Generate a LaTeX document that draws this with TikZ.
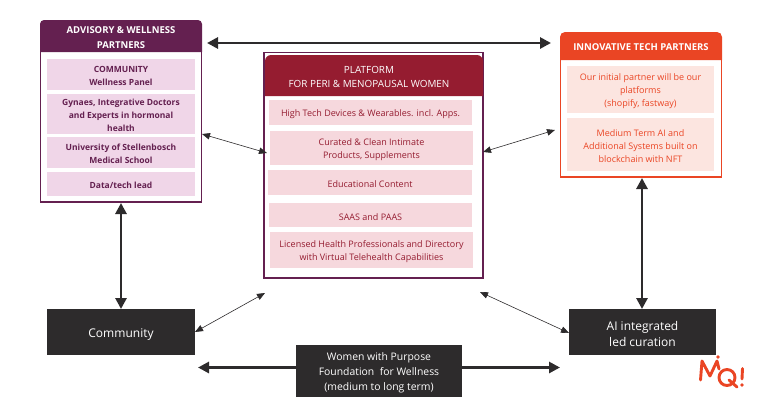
\documentclass[tikz,border=0pt]{standalone}
\usepackage{fontspec}
\setmainfont{Open Sans}
\usetikzlibrary{arrows.meta,positioning,calc}
\definecolor{plum}{HTML}{642050}
\definecolor{plumfill}{HTML}{F0D6E8}
\definecolor{wine}{HTML}{951C30}
\definecolor{winefill}{HTML}{F6D8DD}
\definecolor{orangeh}{HTML}{EA4524}
\definecolor{orangefill}{HTML}{FCE5E0}
\definecolor{coal}{HTML}{2D2B2C}
\tikzset{
  x=1pt,y=-1pt,
  plumitem/.style={fill=plumfill,text=plum,font=\fontsize{8.5}{12.9}\selectfont\bfseries,inner sep=0pt,align=center,anchor=center},
  wineitem/.style={fill=winefill,text=wine,font=\fontsize{9}{13}\selectfont,inner sep=0pt,align=center,anchor=center},
  orangeitem/.style={fill=orangefill,text=orangeh,font=\fontsize{9}{12.8}\selectfont,inner sep=0pt,align=center,anchor=center},
  darkbox/.style={fill=coal,text=white,inner sep=0pt,align=center,anchor=center},
  thick arrow/.style={draw=coal,line width=2.8pt,{Triangle[length=11pt,width=11pt]}-{Triangle[length=11pt,width=11pt]}},
  thin arrow/.style={draw=coal,line width=0.6pt,{Triangle[length=8pt,width=6.5pt]}-{Triangle[length=8pt,width=6.5pt]}},
}
\newcommand{\itemnode}[7]{\node[#2,minimum width=#5-#3,minimum height=#6-#4] (#1) at ({(#3+#5)/2},{(#4+#6)/2}) {\rule{0pt}{1.12em}#7};}
\begin{document}
\begin{tikzpicture}
\useasboundingbox (0,0) rectangle (758,410);
% Advisory
\draw[plum,line width=1.2pt,fill=white] (40.5,30) rectangle (201.5,202);
\fill[plum] (40,52) [rounded corners=4pt] -- (40,20) -- (202,20) [sharp corners] -- (202,52) -- cycle;
\node[text=white,font=\fontsize{9.5}{14.2}\selectfont\bfseries,align=center] (advh) at (121,37.5) {ADVISORY \& WELLNESS\\PARTNERS};
\itemnode{a1}{plumitem}{47}{59}{195}{90}{COMMUNITY\\Wellness Panel}
\itemnode{a2}{plumitem}{47}{94}{195}{134}{Gynaes, Integrative Doctors\\and Experts in hormonal\\health}
\itemnode{a3}{plumitem}{47}{137}{195}{168}{University of Stellenbosch\\Medical School}
\itemnode{a4}{plumitem}{47}{172}{195}{196}{Data/tech lead}
\coordinate (advE) at (202,134);
\coordinate (advS) at (121,203);
\coordinate (advTop) at (207,43);
% Platform
\draw[plum,line width=1.2pt,fill=white] (264,52.5) rectangle (483,278);
\fill[wine] (265,96) [rounded corners=6pt] -- (265,55) -- (483,55) [sharp corners] -- (483,96) -- cycle;
\node[text=white,font=\fontsize{9.9}{13.6}\selectfont,align=center] (plth) at (369,77) {PLATFORM\\FOR PERI \& MENOPAUSAL WOMEN};
\itemnode{p1}{wineitem}{269}{100}{472}{125}{High Tech Devices \& Wearables. incl. Apps.}
\itemnode{p2}{wineitem}{270}{131}{473}{165}{Curated \& Clean Intimate\\Products, Supplements}
\itemnode{p3}{wineitem}{268}{170}{472}{195}{Educational Content}
\itemnode{p4}{wineitem}{269}{203}{472}{227}{SAAS and PAAS}
\itemnode{p5}{wineitem}{270}{232}{473}{268}{Licensed Health Professionals and Directory\\with Virtual Telehealth Capabilities}
\coordinate (pltW) at (267,153);
\coordinate (pltE) at (483,152);
\coordinate (pltSW) at (265,293);
\coordinate (pltSE) at (480,292);
% Innovative
\draw[orangeh,line width=1.1pt,fill=white] (560.5,45) rectangle (721.5,177);
\fill[orangeh] (560,60) [rounded corners=5pt] -- (560,32) -- (722,32) [sharp corners] -- (722,60) -- cycle;
\node[text=white,font=\fontsize{9.5}{13}\selectfont\bfseries] (innh) at (641,47) {INNOVATIVE TECH PARTNERS};
\itemnode{i1}{orangeitem}{567}{66}{714}{113}{Our initial partner will be our\\platforms\\(shopify, fastway)}
\itemnode{i2}{orangeitem}{567}{118}{714}{171}{Medium Term AI and\\Additional Systems built on\\blockchain with NFT}
\coordinate (innW) at (551,43);
\coordinate (innE) at (555,130);
\coordinate (innS) at (642,178);
% Dark boxes
\itemnode{comm}{darkbox,font=\fontsize{12}{14}\selectfont}{47}{309}{195}{355}{Community}
\itemnode{ai}{darkbox,font=\fontsize{12}{16.5}\selectfont}{569}{309}{716}{355}{AI integrated\\led curation}
\itemnode{wwp}{darkbox,font=\fontsize{10.4}{15.2}\selectfont}{296}{345}{462}{397}{Women with Purpose\\Foundation \ for Wellness\\(medium to long term)}
\coordinate (commN) at (121,309);
\coordinate (aiN) at (642,309);
\coordinate (commE) at (195,332);
\coordinate (aiW) at (569,333);
\coordinate (wwpL) at (198,367.5);
\coordinate (wwpR) at (560,367.5);
% Connectors
\draw[thick arrow] (advTop) -- (innW);
\draw[thick arrow] (advS) -- (commN);
\draw[thick arrow] (innS) -- (aiN);
\draw[thick arrow,-{Triangle[length=11pt,width=11pt]}] (wwp.west |- wwpL) -- (wwpL);
\draw[thick arrow,-{Triangle[length=11pt,width=11pt]}] (wwp.east |- wwpR) -- (wwpR);
\draw[thin arrow] (advE) -- (pltW);
\draw[thin arrow] (pltE) -- (innE);
\draw[thin arrow] (commE) -- (pltSW);
\draw[thin arrow] (pltSE) -- (aiW);
% Logo
\begin{scope}[orangeh,line cap=round,line join=round,line width=2.9pt]
\draw (700.5,380) -- (702,361) -- (710,376) -- (717,361) -- (719,369);
\draw (727,377.5) circle[radius=8];
\draw (729,380) -- (737,387);
\fill (718,357) circle[radius=1.8];
\draw (742.5,368.5) -- (742,379);
\fill (742,385) circle[radius=1.8];
\end{scope}
\end{tikzpicture}
\end{document}
